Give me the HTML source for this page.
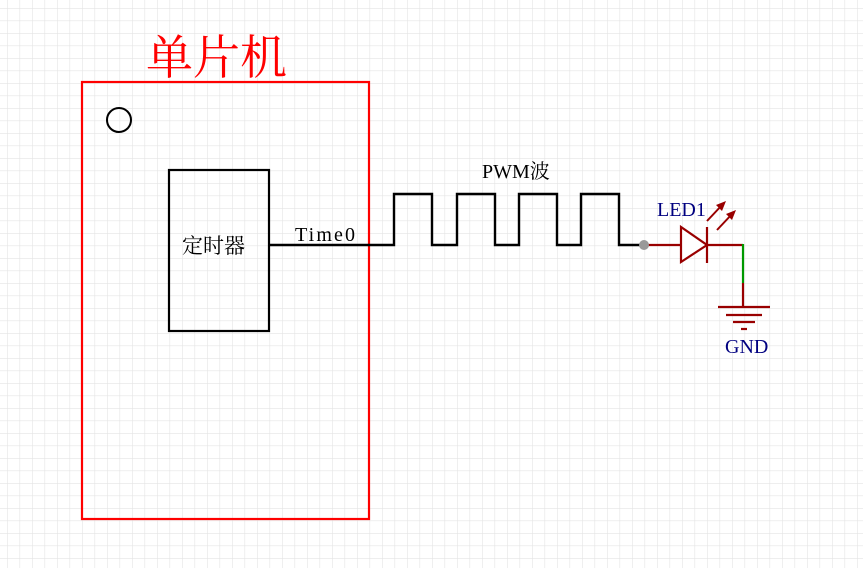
<!DOCTYPE html>
<html><head><meta charset="utf-8"><style>
html,body{margin:0;padding:0;background:#fff}
svg{display:block}
text{font-family:"Liberation Serif","Noto Serif CJK SC",serif}
</style></head><body>
<svg width="863" height="568" viewBox="0 0 863 568" xmlns="http://www.w3.org/2000/svg">
<defs>
<pattern id="g" x="7" y="8" width="12.5" height="12.5" patternUnits="userSpaceOnUse">
<path d="M0 0H12.5M0 0V12.5" stroke="#e4e4e4" stroke-width="1.2" fill="none"/>
</pattern>
</defs>
<rect width="863" height="568" fill="#fff"/>
<rect width="863" height="568" fill="url(#g)"/>
<rect x="82" y="82" width="287" height="437" fill="none" stroke="#ff0000" stroke-width="2.2"/>
<text x="146" y="74" font-size="47" fill="#ff0000" font-family="'Noto Serif CJK SC',serif">单片机</text>
<circle cx="119" cy="120" r="12" fill="none" stroke="#000" stroke-width="2"/>
<rect x="169" y="170" width="100" height="161" fill="none" stroke="#000" stroke-width="2.2"/>
<text x="182" y="253" font-size="21" fill="#000">定时器</text>
<text x="295" y="241" font-size="20" fill="#000" font-family="'Liberation Mono',monospace" textLength="60">Time0</text>
<polyline points="269,245 394,245 394,194 432,194 432,245 457,245 457,194 495,194 495,245 519,245 519,194 557,194 557,245 581,245 581,194 619,194 619,245 644,245" fill="none" stroke="#000" stroke-width="2.4"/>
<text x="482" y="178" font-size="20" fill="#000">PWM波</text>
<line x1="644" y1="245" x2="743" y2="245" stroke="#990000" stroke-width="2.2"/>
<circle cx="644" cy="245" r="5" fill="#999"/>
<polygon points="681,227 681,262 707,245" fill="#fff" stroke="#990000" stroke-width="2.2"/>
<line x1="707" y1="227" x2="707" y2="263" stroke="#990000" stroke-width="2.2"/>
<line x1="707" y1="221" x2="723" y2="204" stroke="#990000" stroke-width="2"/>
<polygon points="726,201 716,205 722,211" fill="#990000"/>
<line x1="717" y1="230" x2="733" y2="213" stroke="#990000" stroke-width="2"/>
<polygon points="736,210 726,214 732,220" fill="#990000"/>
<text x="657" y="216" font-size="20" fill="#000080">LED1</text>
<line x1="743" y1="244" x2="743" y2="283" stroke="#009900" stroke-width="2.2"/>
<line x1="743" y1="283" x2="743" y2="307" stroke="#990000" stroke-width="2.2"/>
<line x1="718" y1="307" x2="770" y2="307" stroke="#990000" stroke-width="2.2"/>
<line x1="726" y1="315" x2="762" y2="315" stroke="#990000" stroke-width="2.2"/>
<line x1="733" y1="322" x2="755" y2="322" stroke="#990000" stroke-width="2.2"/>
<line x1="741" y1="329" x2="747" y2="329" stroke="#990000" stroke-width="2.2"/>
<text x="725" y="353" font-size="20" fill="#000080">GND</text>
</svg>
</body></html>
